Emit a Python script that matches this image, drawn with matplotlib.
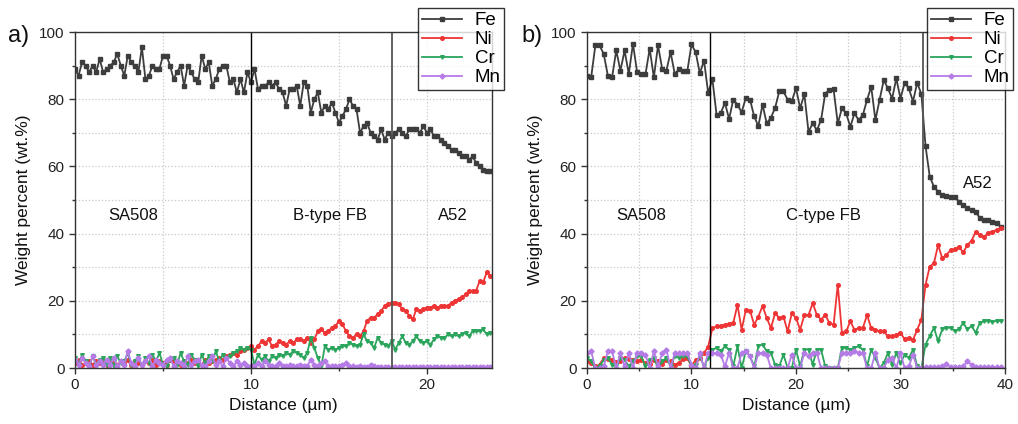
import numpy as np
import matplotlib
matplotlib.use("Agg")
from matplotlib import pyplot as plt
from matplotlib.ticker import MultipleLocator

plt.rcParams["font.family"] = ["Liberation Sans", "DejaVu Sans"]

# ---- panel a) line scan, 0.2 um step ----
step_a = 0.2
fe_a = [89, 87, 91, 90, 88,
        90, 88, 92, 88, 89,
        90, 91, 93.5, 90, 87,
        93, 91, 90, 88, 95.5,
        86, 87, 90, 89, 89,
        93, 93, 90, 86, 88,
        90, 84, 90, 88, 86,
        85, 93, 89, 91, 84,
        86, 89, 90, 90, 85,
        86, 82, 86, 82, 88,
        85, 89, 83, 84, 84,
        85, 84, 85, 83, 82,
        78, 83, 83, 84, 78,
        85, 84, 76, 80, 82,
        76, 78, 77, 79, 76,
        73, 75, 77, 80, 78,
        77, 70, 72, 73, 70,
        69, 68, 71, 68, 70,
        69, 70, 71, 70, 69,
        71, 71, 71, 70, 72,
        70, 71, 69, 69, 68,
        67, 66, 65, 65, 64,
        63, 63, 62, 63, 61,
        60, 59, 58.5, 58.5]
ni_a = [1.5, 2.5, 1, 1.5, 2,
        1, 2, 1.5, 2.5, 1,
        2, 1.5, 1, 2, 1.5,
        2.5, 1, 2, 1.5, 1,
        2, 1.5, 2.5, 1, 2,
        1.5, 1, 2.5, 2, 1.5,
        1, 2, 1.5, 2.5, 1.5,
        2, 1, 2.5, 1.5, 2,
        2.5, 3, 2.5, 3.5, 4,
        4.5, 4, 5, 5.5, 6,
        6.5, 5.5, 6.5, 8, 7.5,
        8.5, 6.5, 7, 8, 7.5,
        7, 8, 7.5, 8.5, 8.5,
        8, 9, 7.5, 8.5, 11,
        11.5, 10.5, 11, 12, 12.5,
        14, 13, 11, 9.5, 9,
        10, 9.5, 11, 14, 15,
        15, 16, 17, 18.5, 19,
        19.5, 19.5, 19, 17.5, 17,
        15.5, 14.5, 17.5, 17, 17.5,
        18, 18, 18.5, 18, 18.5,
        18.5, 18.5, 19.5, 20, 20.5,
        21, 22, 23, 23, 23,
        26, 25.5, 28.5, 27.5]
cr_a = [3, 1, 4, 2, 0.5,
        3.5, 1, 2.5, 3, 1,
        3, 0.5, 3.5, 1.5, 2,
        4.5, 1, 2, 3.5, 0.5,
        3, 1.5, 4, 2, 4.5,
        1, 0.5, 2.5, 3, 1,
        4.5, 2, 1, 4, 2.5,
        0.5, 4, 1.5, 3.5, 2,
        5, 2, 4, 3, 3.5,
        4.5, 5, 6, 5.5, 6,
        5.5, 1, 4, 2.5, 3.5,
        2, 3.5, 3, 4, 3.5,
        4.5, 4, 5, 4.5, 4,
        3, 4.5, 9, 6, 3,
        0.5, 6.5, 5.5, 6, 5.5,
        6, 6.5, 6.5, 7.5, 7,
        6.5, 7, 10, 8, 7.5,
        6, 9, 7.5, 7, 6.5,
        8, 5.5, 7.5, 9.5, 7.5,
        7, 8, 9.5, 8, 7.5,
        8, 7, 8.5, 9.5, 9,
        9, 10, 9.5, 10, 9.5,
        10, 10.5, 9.5, 11, 11,
        11, 11.5, 10, 10.5]
mn_a = [2.5, 1, 3, 1.5, 0.5,
        3.5, 1, 2, 1, 2.5,
        1, 3, 0.5, 2, 1,
        5, 1.5, 0.5, 3, 1,
        2, 3.5, 0.5, 2.5, 1.5,
        1, 2.5, 3, 0.5, 2,
        1.5, 0.5, 3.5, 1, 2,
        2.5, 1, 0.5, 2, 3.5,
        1, 2, 0.5, 3, 1.5,
        0.5, 2, 1, 1.5, 0.5,
        0.5, 0.5, 1.5, 0.5, 2,
        1, 0.5, 0.5, 1.5, 0.5,
        0.5, 1, 0.5, 0.5, 1,
        0.5, 0.5, 2.5, 1, 0.5,
        1.5, 2, 0.5, 0.5, 0.5,
        0.5, 1, 1.5, 0.5, 0.5,
        0.3, 0.5, 0.3, 0.3, 1,
        0.5, 0.3, 0.2, 0.2, 0.2,
        0.2, 0.2, 0.2, 0.2, 0.2,
        0.2, 0.2, 0.2, 0.2, 0.2,
        0.2, 0.2, 0.2, 0.4, 0.2,
        0.2, 0.2, 0.2, 0.2, 0.2,
        0.2, 0.2, 0.2, 0.2, 0.2,
        0.2, 0.2, 0.2, 0.2]

# ---- panel b) line scan, 0.4 um step ----
step_b = 0.4
fe_b = [87, 86.5, 96, 96, 93.5, 87, 86.5, 94.5, 88.5, 94.5,
        87.5, 96.5, 88, 87.5, 87.5, 95, 86.5, 96, 89, 88.5,
        94, 87.5, 89, 88.3, 88.3, 96.3, 94, 87.7, 91.5, 81.8,
        86, 75.4, 75.9, 78.9, 74.1, 79.9, 78.4, 76.1, 80.4, 79.9,
        74.9, 72, 78.4, 72.8, 74.5, 77.4, 82.3, 82.3, 79.9, 79.4,
        83.3, 77.3, 81.5, 70.3, 72.8, 70.8, 73.8, 81.7, 82.7, 82.9,
        72.8, 77.3, 75.8, 71.8, 75.8, 73.8, 75.3, 79.8, 83.7, 73.8,
        79.8, 85.7, 83.2, 80.2, 86.2, 80.2, 84.9, 83.2, 79.3, 84.9,
        81.5, 66, 57, 54, 52.5, 51.5, 51.2, 51, 51, 49.5,
        48.5, 47.5, 47, 46.5, 44.6, 44.2, 44, 43.6, 43.3, 42]
ni_b = [2, 1.5, 0.5, 1, 3, 2.7, 2.5, 1.7, 2, 3,
        2.7, 2.5, 2, 2.5, 1.5, 1.3, 2.5, 2, 1.2, 2.5,
        2, 1, 1.5, 2.7, 3, 0.5, 2.5, 3, 4.5, 6.4,
        11.8, 12.4, 12.6, 12.8, 13.2, 13.4, 18.8, 11.4, 17.3, 17.1,
        12.9, 15.3, 18.5, 14.9, 11.9, 16.3, 14.9, 15.3, 10.9, 16.3,
        14.9, 11.4, 15.8, 15.8, 19.3, 15.8, 14.4, 15.8, 13.4, 12.9,
        24.8, 10.4, 10.9, 13.9, 11.4, 11.9, 11.9, 15.8, 11.9, 11.4,
        10.9, 10.9, 9.4, 9.4, 9.8, 10.4, 8.6, 8.9, 8.4, 11.4,
        14.4, 24.8, 30.2, 31.2, 36.6, 32.7, 33.7, 35.1, 35.3, 36.1,
        34.4, 36.6, 37.9, 40.6, 39.6, 39.1, 40.1, 40.6, 41.1, 41.6]
cr_b = [3, 2, 0, 0.5, 2.5, 3, 1, 0.5, 3, 2.5,
        0.5, 2, 3.5, 3.5, 0.5, 2.5, 3, 0, 2, 3,
        0.5, 3.5, 3, 3.5, 3.5, 0.5, 1, 3.5, 0.5, 3,
        5.5, 6, 5, 6.5, 5.5, 0.5, 6.5, 0, 5, 3.5,
        0.5, 6.5, 7, 5, 4.5, 1, 0.5, 4, 0, 0,
        5.5, 0.5, 5.5, 5.5, 1, 5.5, 5.5, 0.5, 0, 0,
        0, 6, 6, 5.5, 6, 6.5, 5.5, 0.5, 5.5, 3,
        0, 1.5, 4.5, 1, 4.5, 1.5, 4, 3, 5.5, 0.5,
        0, 7, 9.5, 12, 8, 11.5, 12, 12, 11, 11.5,
        13.5, 11.5, 12.5, 10.5, 13.5, 14, 14, 13.8, 14, 14]
mn_b = [4.5, 5, 0, 0, 0.5, 5, 5, 0, 4.5, 0.5,
        4.5, 0, 4.5, 4.5, 4, 0, 5, 0.5, 4.5, 5.5,
        0, 4.5, 4.5, 4.5, 4.5, 1, 0, 4.5, 0, 4.5,
        4.5, 4.5, 4, 0.5, 4.5, 0, 0, 4.5, 5, 3.5,
        0, 4.5, 4.5, 4, 0, 0, 0, 0, 0, 4,
        0, 0, 4.5, 3.5, 4.5, 4.5, 0, 0, 0, 0,
        0, 4.5, 4.5, 4.5, 5, 4.5, 4.5, 0, 0, 4.5,
        0, 0, 2.5, 3, 0, 4.5, 0, 0.5, 4, 0,
        0, 0.2, 0.2, 0.2, 0.2, 0.5, 1.2, 0.2, 0.2, 0.2,
        0.5, 2, 1, 0.2, 0.2, 0.2, 0.2, 0.2, 0.2, 0.2]

elements = ["Fe", "Ni", "Cr", "Mn"]
colors = ["#3d3d3d", "#ee3434", "#2ba45c", "#b57be6"]
markers = ["s", "o", "v", "D"]

panels = [
    dict(tag="a)", step=step_a, data=[fe_a, ni_a, cr_a, mn_a], xmax=23.7,
         bounds=[10, 18],
         zones=[("SA508", 3.3, 45.5), ("B-type FB", 14.5, 45.5), ("A52", 21.5, 45.5)],
         rect=[0.0737, 0.132, 0.4096, 0.7925], legx=0.4195, tagx=0.008),
    dict(tag="b)", step=step_b, data=[fe_b, ni_b, cr_b, mn_b], xmax=40,
         bounds=[11.8, 32.2],
         zones=[("SA508", 5.2, 45.5), ("C-type FB", 22.6, 45.5), ("A52", 37.4, 55)],
         rect=[0.5766, 0.132, 0.4106, 0.7925], legx=0.9195, tagx=0.512),
]

fig = plt.figure(figsize=(10.18, 4.24), dpi=100)

for p in panels:
    ax = fig.add_axes(p["rect"])
    for vals, name, c, m in zip(p["data"], elements, colors, markers):
        x = np.arange(len(vals)) * p["step"]
        ax.plot(x, vals, color=c, marker=m, markersize=2.6, lw=1.3, label=name)

    ax.axvline(p["bounds"][0], color="black", lw=1.0)
    ax.axvline(p["bounds"][1], color="#555555", lw=1.3)

    for txt, zx, zy in p["zones"]:
        ax.text(zx, zy, txt, ha="center", va="center", fontsize=12, color="#111111")

    ax.set_xlim(0, p["xmax"])
    ax.set_ylim(0, 100)
    ax.xaxis.set_major_locator(MultipleLocator(10))
    ax.xaxis.set_minor_locator(MultipleLocator(5))
    ax.yaxis.set_major_locator(MultipleLocator(20))
    ax.yaxis.set_minor_locator(MultipleLocator(10))
    ax.grid(which="both", color="#c8c8c8", ls=":", lw=0.9)
    ax.set_axisbelow(True)
    ax.tick_params(which="major", direction="out", length=4, width=1,
                   labelsize=11, colors="#333333", labelcolor="#222222")
    ax.tick_params(which="minor", direction="out", length=2.5, width=1, colors="#333333")
    for s in ax.spines.values():
        s.set_color("#333333")
        s.set_linewidth(1.0)

    ax.set_xlabel("Distance (µm)", fontsize=12.5, color="#111111", labelpad=4)
    ax.set_ylabel("Weight percent (wt.%)", fontsize=12.5, color="#111111", labelpad=6)

    leg = ax.legend(loc="upper right", bbox_to_anchor=(p["legx"] + 0.076, 0.98),
                    bbox_transform=fig.transFigure, fontsize=13.5, frameon=True,
                    fancybox=False, edgecolor="black", handlelength=2.1,
                    borderpad=0.2, labelspacing=0.1, handletextpad=0.7,
                    borderaxespad=0)
    leg.get_frame().set_linewidth(1.0)
    leg.set_zorder(5)

    fig.text(p["tagx"], 0.915, p["tag"], fontsize=17, color="#111111", ha="left", va="center")

fig.savefig("out.png", dpi=100)
